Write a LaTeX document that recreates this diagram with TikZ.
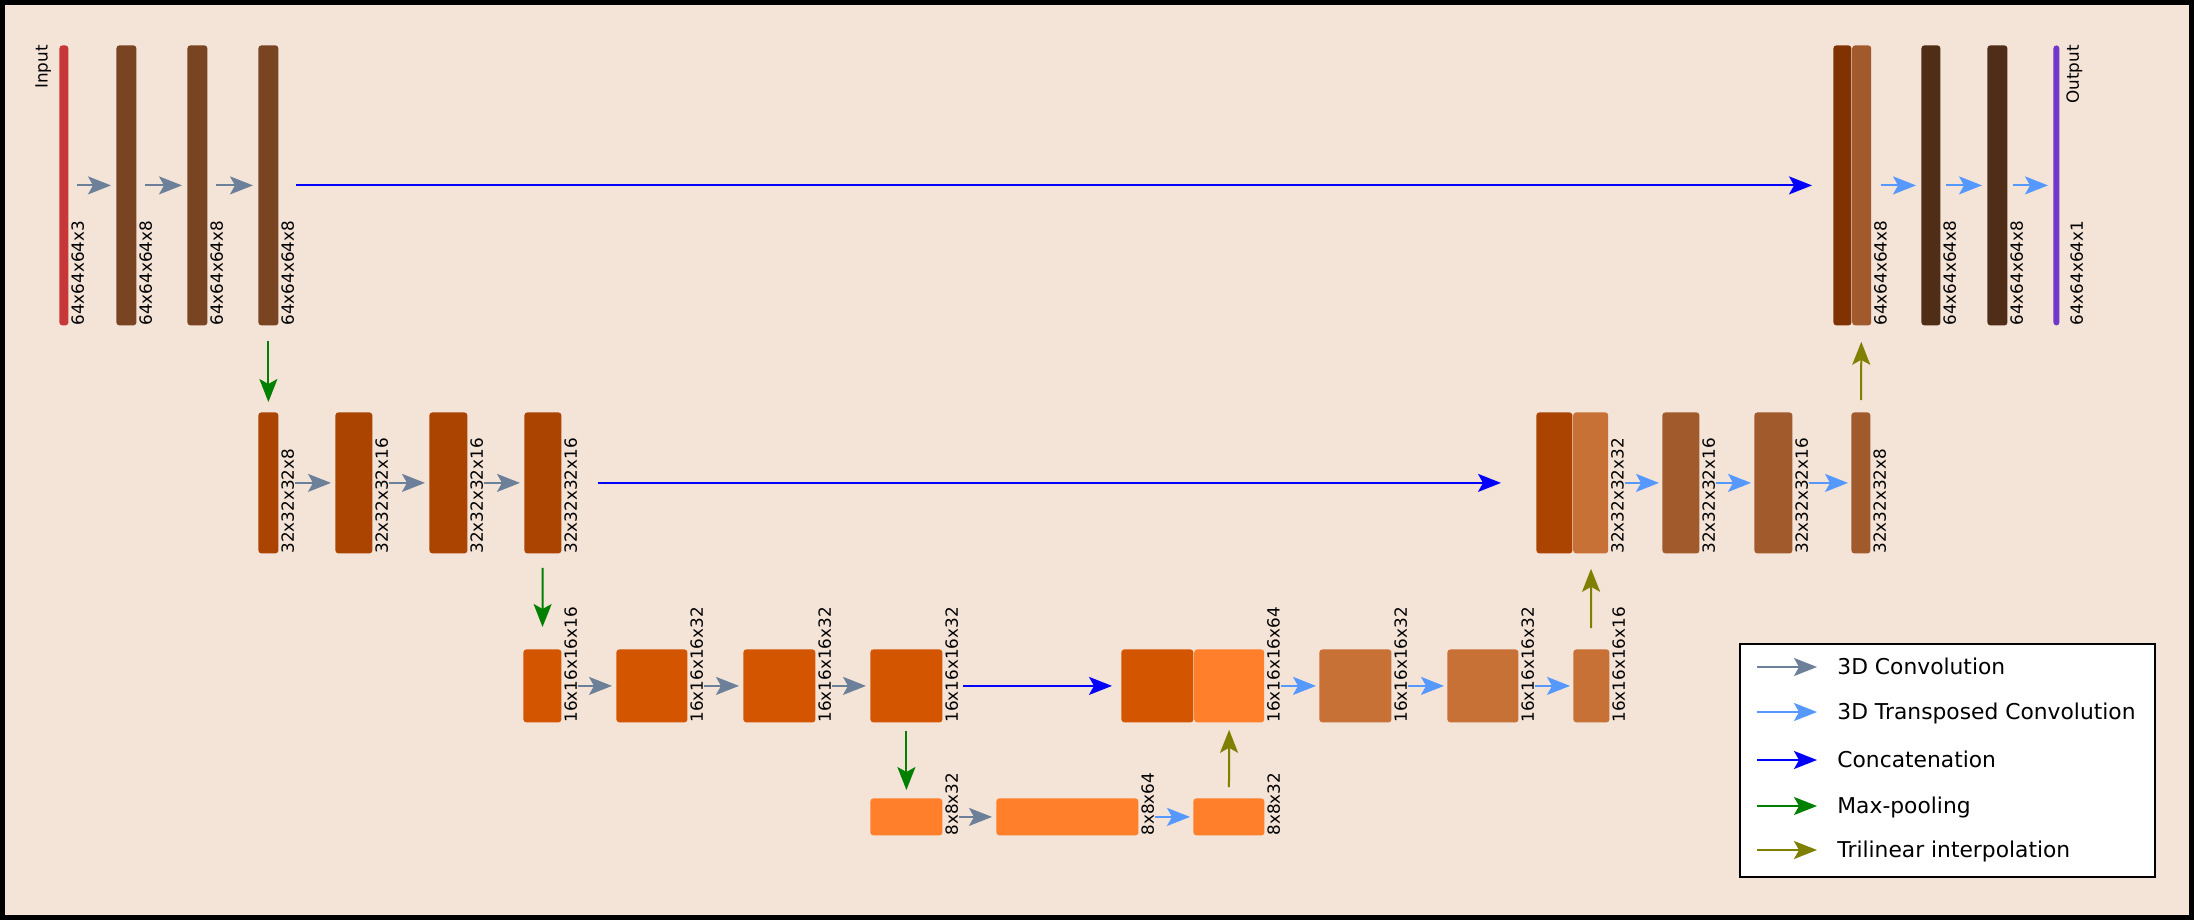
\documentclass[tikz,border=0pt]{standalone}
\usepackage{fontspec}
\setmainfont{DejaVu Sans}
\usetikzlibrary{positioning, arrows.meta}
\definecolor{bgpeach}{HTML}{F4E3D7}
\definecolor{inred}{HTML}{C83737}
\definecolor{encA}{HTML}{784421}
\definecolor{encB}{HTML}{AA4400}
\definecolor{encC}{HTML}{D45500}
\definecolor{encD}{HTML}{FF7F2A}
\definecolor{decA}{HTML}{803300}
\definecolor{decB}{HTML}{A05A2C}
\definecolor{decC}{HTML}{C87137}
\definecolor{decD}{HTML}{502D16}
\definecolor{outviolet}{HTML}{7137C8}
\definecolor{convgray}{HTML}{6C8099}
\definecolor{tconvblue}{HTML}{5599FF}
\definecolor{poolgreen}{HTML}{008000}
\definecolor{interpolive}{HTML}{808000}
\tikzset{
	blk/.style={rectangle, rounded corners=1.5pt, inner sep=0pt, draw=none, anchor=north west},
	barsize/.style 2 args={minimum width=#1*0.5pt, minimum height=#2*0.5pt},
	dims/.style={rotate=90, anchor=north west, inner sep=0pt, text height=0.73em, text depth=0pt,
		font=\fontsize{8.4}{10}\selectfont},
	keytext/.style={anchor=west, inner sep=0pt, text height=0.73em, text depth=0pt,
		font=\fontsize{10.9}{13}\selectfont},
	flow/.style={line width=1pt, -{Stealth[length=11.5pt, width=9pt, inset=2.5pt]}},
	conv/.style={flow, draw=convgray},
	tconv/.style={flow, draw=tconvblue},
	concat/.style={flow, draw=blue},
	pool/.style={flow, draw=poolgreen},
	interp/.style={flow, draw=interpolive},
}
\begin{document}
\begin{tikzpicture}[x=0.5pt, y=-0.5pt]

\useasboundingbox (0,0) rectangle (2194,920);
\draw[line width=2.5pt, fill=bgpeach] (2.5,2.5) rectangle (2191.5,917.5);

%encoder
\foreach \nm/\x/\w/\col/\txt in {inp/59/9/inred/64x64x64x3, ea/116/20/encA/64x64x64x8,
		eb/187/20/encA/64x64x64x8, ec/258/20/encA/64x64x64x8}{
	\node[blk, barsize={\w}{280}, fill=\col] (\nm) at (\x,45) {};
	\node[dims] (\nm-d) at (\nm.south east) {\txt};
}
\node[dims, anchor=south east] (inp-t) at ([xshift=-5.5pt]inp.north west) {Input};

\foreach \nm/\x/\w/\txt in {f1/258/20/32x32x32x8, f2/335/37/32x32x32x16,
		f3/429/38/32x32x32x16, f4/524/37/32x32x32x16}{
	\node[blk, barsize={\w}{141}, fill=encB] (\nm) at (\x,412) {};
	\node[dims] (\nm-d) at (\nm.south east) {\txt};
}

\foreach \nm/\x/\w/\txt in {h1/523/38/16x16x16x16, h2/616/71/16x16x16x32,
		h3/743/72/16x16x16x32, h4/870/72/16x16x16x32}{
	\node[blk, barsize={\w}{73}, fill=encC] (\nm) at (\x,649) {};
	\node[dims] (\nm-d) at (\nm.south east) {\txt};
}

%bottom
\foreach \nm/\x/\w/\txt in {m1/870/72/8x8x32, m2/996/142/8x8x64, m3/1193/71/8x8x32}{
	\node[blk, barsize={\w}{37}, fill=encD] (\nm) at (\x,798) {};
	\node[dims] (\nm-d) at (\nm.south east) {\txt};
}

%decoder
\node[blk, barsize={72}{73}, fill=encC] (c3a) at (1121,649) {};
\node[blk, barsize={70}{73}, fill=encD, right=0pt of c3a] (c3b) {};
\node[dims] (c3-d) at (c3b.south east) {16x16x16x64};
\foreach \nm/\x/\w/\txt in {k1/1319/72/16x16x16x32, k2/1447/71/16x16x16x32, k3/1573/36/16x16x16x16}{
	\node[blk, barsize={\w}{73}, fill=decC] (\nm) at (\x,649) {};
	\node[dims] (\nm-d) at (\nm.south east) {\txt};
}

\node[blk, barsize={36}{141}, fill=encB] (c2a) at (1536,412) {};
\node[blk, barsize={35}{141}, fill=decC, right=0pt of c2a] (c2b) {};
\node[dims] (c2-d) at (c2b.south east) {32x32x32x32};
\foreach \nm/\x/\w/\txt in {g1/1662/37/32x32x32x16, g2/1754/38/32x32x32x16, g3/1851/19/32x32x32x8}{
	\node[blk, barsize={\w}{141}, fill=decB] (\nm) at (\x,412) {};
	\node[dims] (\nm-d) at (\nm.south east) {\txt};
}

\node[blk, barsize={18}{280}, fill=decA] (c1a) at (1833,45) {};
\node[blk, barsize={19}{280}, fill=decB, right=0pt of c1a] (c1b) {};
\node[dims] (c1-d) at (c1b.south east) {64x64x64x8};
\foreach \nm/\x/\w/\col in {d1a/1921/19/decD, d1b/1987/20/decD, out/2053/6/outviolet}{
	\node[blk, barsize={\w}{280}, fill=\col] (\nm) at (\x,45) {};
}
\node[dims] (d1a-d) at (d1a.south east) {64x64x64x8};
\node[dims] (d1b-d) at (d1b.south east) {64x64x64x8};
\node[dims] (out-d) at ([xshift=4pt]out.south east) {64x64x64x1};
\node[dims, anchor=north east] (out-t) at ([xshift=2pt]out.north east) {Output};

%arrows
\foreach \a/\b in {inp/ea, ea/eb, eb/ec}
	\draw[conv, shorten <=4pt, shorten >=2.5pt] (\a) -- (\b);
\foreach \a/\b in {f1/f2, f2/f3, f3/f4, h1/h2, h2/h3, h3/h4, m1/m2}
	\draw[conv, shorten <=8pt, shorten >=2pt] (\a) -- (\b);
\foreach \a/\b in {m2/m3, c3b/k1, k1/k2, k2/k3, c2b/g1, g1/g2, g2/g3}
	\draw[tconv, shorten <=8pt, shorten >=1.5pt] (\a) -- (\b);
\draw[tconv, shorten <=4.5pt, shorten >=2.5pt] (c1b) -- (d1a);
\foreach \a/\b in {d1a/d1b, d1b/out}
	\draw[tconv, shorten <=2.5pt, shorten >=2.5pt] (\a) -- (\b);

\draw[concat, shorten <=8.5pt, shorten >=10.5pt] (ec) -- (c1a);
\draw[concat, shorten <=18pt, shorten >=17.5pt] (f4) -- (c2a);
\draw[concat, shorten <=10pt, shorten >=4.5pt] (h4) -- (c3a);

\draw[pool, shorten <=7.5pt, shorten >=5pt] (ec) -- (f1);
\draw[pool, shorten <=7pt, shorten >=11pt] (f4) -- (h1);
\draw[pool, shorten <=4pt, shorten >=4pt] (h4) -- (m1);

\draw[interp, shorten <=5.5pt, shorten >=3.5pt] (m3) -- (c3b);
\draw[interp, shorten <=10.5pt, shorten >=7.5pt] (k3) -- (c2b);
\draw[interp, shorten <=6pt, shorten >=8pt] (g3) -- (c1b);

%legend
\node[draw=black, line width=1pt, fill=white, inner sep=0pt, minimum width=207.5pt,
	minimum height=116.5pt, anchor=north west] (legend) at (1739,643) {};
\foreach \i/\sty/\yy/\txt in {1/conv/667/3D Convolution, 2/tconv/712/3D Transposed Convolution,
		3/concat/760/Concatenation, 4/pool/806/Max-pooling, 5/interp/850/Trilinear interpolation}{
	\coordinate (key\i) at (1757,\yy);
	\node[keytext] (keyt\i) at (1837,\yy) {\txt};
	\draw[\sty, shorten >=10pt] (key\i) -- (keyt\i);
}

\end{tikzpicture}
\end{document}
